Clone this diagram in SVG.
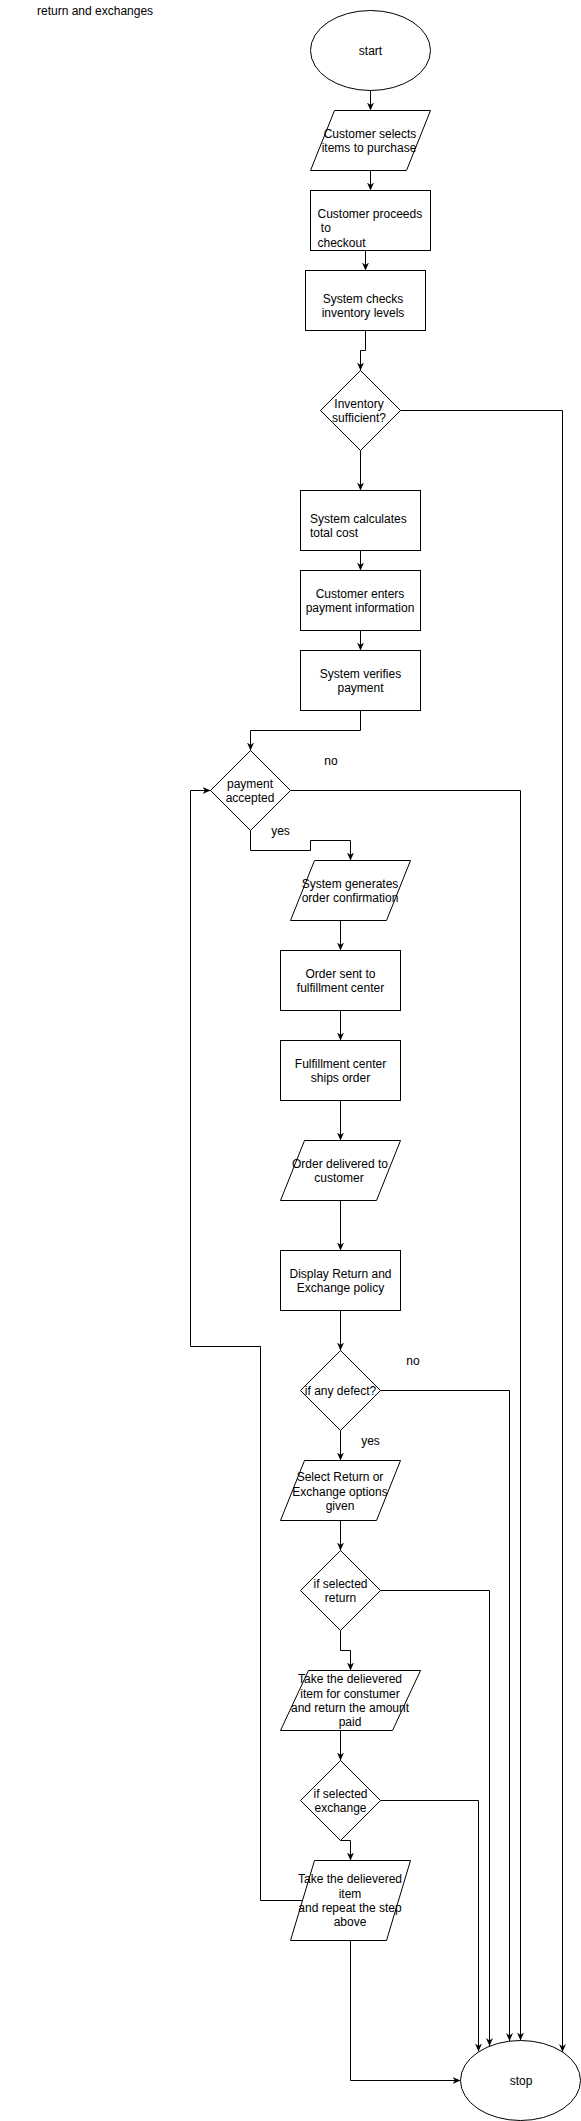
<svg xmlns="http://www.w3.org/2000/svg" width="581" height="2121" viewBox="0 0 581 2121">
<style>
.s{fill:#fff;stroke:#000;stroke-width:1}
.c{fill:none;stroke:#000;stroke-width:1}
text{font-family:"Liberation Sans",Arial,Helvetica,sans-serif;font-size:12px;fill:#000}
.m{text-anchor:middle}
</style>
<defs>
<marker id="arr" markerUnits="userSpaceOnUse" markerWidth="9" markerHeight="8" viewBox="0 0 9 8" refX="8" refY="4" orient="auto">
<path d="M0,0.5 L8,4 L0,7.5 L2.5,4 Z" fill="#000"/>
</marker>
</defs>
<rect width="581" height="2121" fill="#fff"/>
<text x="37" y="15">return and exchanges</text>

<g id="connectors" class="c" marker-end="url(#arr)">
<path class="c" marker-end="url(#arr)" d="M370.5,90.5 V110.5"/>
<path class="c" marker-end="url(#arr)" d="M370.5,170.5 V190.5"/>
<path class="c" marker-end="url(#arr)" d="M365.5,250.5 V270.5"/>
<path class="c" marker-end="url(#arr)" d="M365.5,330.5 V350.5 H360.5 V370.5"/>
<path class="c" marker-end="url(#arr)" d="M400.5,410.5 H562.5 V2052"/>
<path class="c" marker-end="url(#arr)" d="M360.5,450.5 V490.5"/>
<path class="c" marker-end="url(#arr)" d="M360.5,537 V570.5"/>
<path class="c" marker-end="url(#arr)" d="M360.5,630.5 V650.5"/>
<path class="c" marker-end="url(#arr)" d="M360.5,710.5 V730.5 H250.5 V750.5"/>
<path class="c" marker-end="url(#arr)" d="M290.5,790.5 H520.5 V2040.5"/>
<path class="c" marker-end="url(#arr)" d="M250.5,830.5 V850.5 H310.5 V840.5 H350.5 V860.5"/>
<path class="c" marker-end="url(#arr)" d="M340.5,920.5 V950.5"/>
<path class="c" marker-end="url(#arr)" d="M340.5,1010.5 V1040.5"/>
<path class="c" marker-end="url(#arr)" d="M340.5,1100.5 V1140.5"/>
<path class="c" marker-end="url(#arr)" d="M340.5,1200.5 V1250.5"/>
<path class="c" marker-end="url(#arr)" d="M340.5,1310.5 V1350.5"/>
<path class="c" marker-end="url(#arr)" d="M380.5,1390.5 H509.5 V2041"/>
<path class="c" marker-end="url(#arr)" d="M340.5,1430.5 V1460.5"/>
<path class="c" marker-end="url(#arr)" d="M340.5,1520.5 V1550.5"/>
<path class="c" marker-end="url(#arr)" d="M380.5,1590.5 H489.5 V2046"/>
<path class="c" marker-end="url(#arr)" d="M340.5,1630.5 V1650.5 H350.5 V1670.5"/>
<path class="c" marker-end="url(#arr)" d="M340.5,1730.5 V1760.5"/>
<path class="c" marker-end="url(#arr)" d="M380.5,1800.5 H478.5 V2051.5"/>
<path class="c" marker-end="url(#arr)" d="M340.5,1840.5 H350.5 V1860.5"/>
<path class="c" marker-end="url(#arr)" d="M302.5,1900.5 H260.5 V1346.5 H190.5 V790.5 H210.5"/>
<path class="c" marker-end="url(#arr)" d="M350.5,1940.5 V2080.5 H460.5"/>
</g>

<g id="start"><ellipse class="s" cx="370.5" cy="50.5" rx="60" ry="40"/><text class="m" x="370.5" y="55">start</text></g>

<g id="select-items"><polygon class="s" points="334.5,110.5 430.5,110.5 406.5,170.5 310.5,170.5"/>
<text class="m" x="370" y="137.5">Customer selects</text><text class="m" x="369" y="152">items to purchase</text></g>

<g id="checkout"><rect class="s" x="310.5" y="190.5" width="120" height="60"/>
<text x="317.5" y="217.5">Customer proceeds</text><text x="317.5" y="232" xml:space="preserve"> to</text><text x="317.5" y="246.5">checkout</text></g>

<g id="check-inventory"><rect class="s" x="305.5" y="270.5" width="120" height="60"/>
<text class="m" x="363" y="302.5">System checks</text><text class="m" x="363" y="317">inventory levels</text></g>

<g id="inventory-sufficient"><polygon class="s" points="360.5,370.5 400.5,410.5 360.5,450.5 320.5,410.5"/>
<text class="m" x="359" y="407.5">Inventory</text><text class="m" x="359" y="422">sufficient?</text></g>

<g id="calc-cost"><rect class="s" x="300.5" y="490.5" width="120" height="60"/>
<text x="310" y="523">System calculates</text><text x="310" y="537">total cost</text></g>

<g id="enter-payment"><rect class="s" x="300.5" y="570.5" width="120" height="60"/>
<text class="m" x="360" y="598">Customer enters</text><text class="m" x="360" y="612">payment information</text></g>

<g id="verify-payment"><rect class="s" x="300.5" y="650.5" width="120" height="60"/>
<text class="m" x="360.5" y="677.5">System verifies</text><text class="m" x="360.5" y="691.5">payment</text></g>

<g id="payment-accepted"><polygon class="s" points="250.5,750.5 290.5,790.5 250.5,830.5 210.5,790.5"/>
<text class="m" x="250" y="787.5">payment</text><text class="m" x="250" y="802">accepted</text></g>
<text class="m" x="331" y="765">no</text>
<text class="m" x="280.5" y="835">yes</text>

<g id="order-confirmation"><polygon class="s" points="314.5,860.5 410.5,860.5 386.5,920.5 290.5,920.5"/>
<text class="m" x="350" y="888">System generates</text><text class="m" x="350" y="902">order confirmation</text></g>

<g id="order-sent"><rect class="s" x="280.5" y="950.5" width="120" height="60"/>
<text class="m" x="340.5" y="978">Order sent to</text><text class="m" x="340.5" y="992">fulfillment center</text></g>

<g id="ships-order"><rect class="s" x="280.5" y="1040.5" width="120" height="60"/>
<text class="m" x="340.5" y="1068">Fulfillment center</text><text class="m" x="340.5" y="1082">ships order</text></g>

<g id="order-delivered"><polygon class="s" points="304.5,1140.5 400.5,1140.5 376.5,1200.5 280.5,1200.5"/>
<text class="m" x="340" y="1167.5">Order delivered to</text><text class="m" x="339" y="1182">customer</text></g>

<g id="display-policy"><rect class="s" x="280.5" y="1250.5" width="120" height="60"/>
<text class="m" x="340.5" y="1278">Display Return and</text><text class="m" x="340.5" y="1292">Exchange policy</text></g>

<g id="any-defect"><polygon class="s" points="340.5,1350.5 380.5,1390.5 340.5,1430.5 300.5,1390.5"/>
<text class="m" x="340.5" y="1395">if any defect?</text></g>
<text class="m" x="413" y="1365">no</text>
<text class="m" x="370.5" y="1445">yes</text>

<g id="select-options"><polygon class="s" points="304.5,1460.5 400.5,1460.5 376.5,1520.5 280.5,1520.5"/>
<text class="m" x="340" y="1481">Select Return or</text><text class="m" x="340" y="1495.5">Exchange options</text><text class="m" x="340" y="1510">given</text></g>

<g id="selected-return"><polygon class="s" points="340.5,1550.5 380.5,1590.5 340.5,1630.5 300.5,1590.5"/>
<text class="m" x="340.5" y="1588">if selected</text><text class="m" x="340.5" y="1602">return</text></g>

<g id="return-item"><polygon class="s" points="308.5,1670.5 420.5,1670.5 392.5,1730.5 280.5,1730.5"/>
<text class="m" x="350" y="1683">Take the delievered</text><text class="m" x="350" y="1697.5">item for constumer</text><text class="m" x="350" y="1712">and return the amount</text><text class="m" x="350" y="1726">paid</text></g>

<g id="selected-exchange"><polygon class="s" points="340.5,1760.5 380.5,1800.5 340.5,1840.5 300.5,1800.5"/>
<text class="m" x="340.5" y="1798">if selected</text><text class="m" x="340.5" y="1812">exchange</text></g>

<g id="exchange-item"><polygon class="s" points="314.5,1860.5 410.5,1860.5 386.5,1940.5 290.5,1940.5"/>
<text class="m" x="350" y="1883">Take the delievered</text><text class="m" x="350" y="1897.5">item</text><text class="m" x="350" y="1912">and repeat the step</text><text class="m" x="350" y="1926">above</text></g>

<g id="stop"><ellipse class="s" cx="520.5" cy="2080.5" rx="60" ry="40"/><text class="m" x="521" y="2085">stop</text></g>
</svg>
